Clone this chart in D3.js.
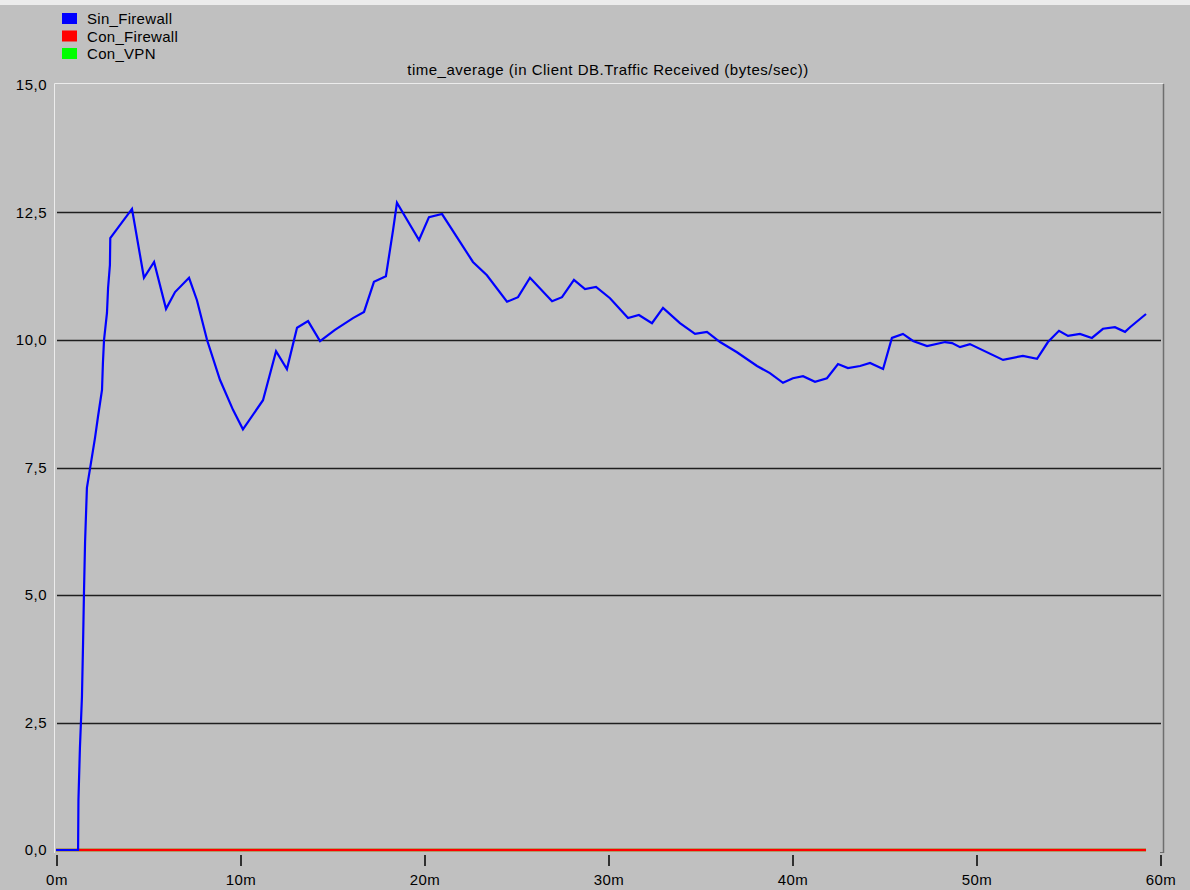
<!DOCTYPE html>
<html>
<head>
<meta charset="utf-8">
<script src="https://cdn.jsdelivr.net/npm/d3@7/dist/d3.min.js"></script>
<style>
  html, body { margin: 0; padding: 0; background: #c0c0c0; }
  svg { display: block; }
  text { font-family: "Liberation Sans", Arial, sans-serif; fill: #000; }
</style>
</head>
<body>
<svg id="chart" width="1190" height="890"></svg>
<script>
// Series names, in legend order
const seriesNames = ["Sin_Firewall", "Con_Firewall", "Con_VPN"];
const seriesColors = ["#0000ff", "#ff0000", "#00ff00"];

// Sin_Firewall: time (minutes) and time-averaged traffic received (bytes/sec)
const sinTimes = [0, 1.2, 1.22, 1.3, 1.41, 1.47, 1.52, 1.58, 1.68, 2.12, 2.28, 2.5, 2.55, 2.61, 2.77, 2.83, 2.93, 2.95,
  4.13, 4.78, 5.33, 5.98, 6.47, 7.23, 7.66, 8.21, 8.91, 9.62, 10.16, 11.25, 11.96, 12.55, 13.1, 13.7, 14.35,
  15.16, 16.14, 16.74, 17.28, 17.93, 18.32, 18.53, 19.73, 20.27, 20.98, 22.66, 23.42, 24.51, 25.11, 25.76,
  26.96, 27.5, 28.15, 28.75, 29.35, 30.11, 31.09, 31.68, 32.39, 32.99, 33.91, 34.73, 35.38, 36.09, 37.01,
  38.1, 38.8, 39.51, 40.05, 40.6, 41.25, 41.9, 42.5, 43.04, 43.7, 44.24, 44.95, 45.43, 46.03, 46.58, 47.34,
  48.32, 48.7, 49.13, 49.67, 51.47, 52.55, 53.32, 53.91, 54.51, 55.0, 55.65, 56.3, 56.9, 57.55, 58.1, 58.37, 59.24];
const sinValues = [0, 0, 0.98, 2.0, 3.0, 4.04, 5.04, 6.04, 7.1, 8.08, 8.49, 9.02, 9.55, 10.0, 10.53, 11.02, 11.47, 12.0,
  12.57, 11.22, 11.53, 10.61, 10.94, 11.22, 10.78, 10.0, 9.22, 8.63, 8.25, 8.82, 9.78, 9.43, 10.24, 10.37, 9.98,
  10.2, 10.43, 10.55, 11.14, 11.25, 12.16, 12.69, 11.96, 12.41, 12.47, 11.53, 11.27, 10.75, 10.84, 11.22,
  10.76, 10.84, 11.18, 11.0, 11.04, 10.82, 10.43, 10.49, 10.33, 10.63, 10.33, 10.12, 10.16, 9.96, 9.76,
  9.49, 9.35, 9.16, 9.25, 9.29, 9.18, 9.25, 9.53, 9.45, 9.49, 9.55, 9.43, 10.04, 10.12, 9.98, 9.88,
  9.96, 9.94, 9.86, 9.92, 9.61, 9.69, 9.63, 9.96, 10.18, 10.08, 10.12, 10.04, 10.22, 10.25, 10.16, 10.25, 10.51];

// Con_Firewall and Con_VPN stay at zero for the whole run
const conTimes = [0, 59.24];
const conFirewallValues = [0, 0];
const conVpnValues = [0, 0];

// Axis ticks
const xTicks = [0, 10, 20, 30, 40, 50, 60];
const xTickLabels = ["0m", "10m", "20m", "30m", "40m", "50m", "60m"];
const yTicks = [0, 2.5, 5, 7.5, 10, 12.5, 15];
const yTickLabels = ["0,0", "2,5", "5,0", "7,5", "10,0", "12,5", "15,0"];

const chartTitle = "time_average (in Client DB.Traffic Received (bytes/sec))";

const svg = d3.select("#chart");
const W = 1190, H = 890;
const plot = { left: 56, right: 1160, top: 85, bottom: 850 };

const x = d3.scaleLinear().domain([0, 60]).range([plot.left, plot.right]);
const y = d3.scaleLinear().domain([0, 15]).range([plot.bottom, plot.top]);

// Window background with a light strip along the top edge
svg.append("rect").attr("x", 0).attr("y", 0).attr("width", W).attr("height", H).attr("fill", "#c0c0c0");
svg.append("rect").attr("x", 0).attr("y", 0).attr("width", W).attr("height", 5).attr("fill", "#ececec");

// Legend
const legend = svg.append("g");
seriesNames.forEach((name, i) => {
  const cy = 19 + i * 17.5;
  legend.append("rect").attr("x", 62).attr("y", cy - 6).attr("width", 15).attr("height", 11)
    .attr("fill", seriesColors[i]);
  legend.append("text").attr("x", 87).attr("y", cy).attr("dy", "0.35em")
    .style("font-size", "15px").style("letter-spacing", "0.3px").text(name);
});

// Title
svg.append("text").attr("x", (plot.left + plot.right) / 2).attr("y", 75)
  .attr("text-anchor", "middle").style("font-size", "15px").style("letter-spacing", "0.5px")
  .text(chartTitle);

// Plot frame: light top/left edges, dark right edge
svg.append("line").attr("x1", 54.5).attr("x2", 1163).attr("y1", 83.5).attr("y2", 83.5)
  .attr("stroke", "#ececec").attr("stroke-width", 1);
svg.append("line").attr("x1", 54.5).attr("x2", 54.5).attr("y1", 83.5).attr("y2", 853)
  .attr("stroke", "#ececec").attr("stroke-width", 1);
svg.append("line").attr("x1", 1163.5).attr("x2", 1163.5).attr("y1", 84).attr("y2", 853)
  .attr("stroke", "#6e6e6e").attr("stroke-width", 1.5);
svg.append("line").attr("x1", 1160).attr("x2", 1163.5).attr("y1", 852.5).attr("y2", 852.5)
  .attr("stroke", "#6e6e6e").attr("stroke-width", 1);

// Horizontal gridlines (no line at the top value, which sits on the frame)
svg.append("g").selectAll("line").data(yTicks.filter(v => v > 0 && v < 15)).join("line")
  .attr("x1", plot.left + 1).attr("x2", plot.right + 1)
  .attr("y1", d => Math.round(y(d)) + 0.5).attr("y2", d => Math.round(y(d)) + 0.5)
  .attr("stroke", "#1e1e1e").attr("stroke-width", 1.3);

// Y-axis labels
svg.append("g").selectAll("text").data(yTicks).join("text")
  .attr("x", 47).attr("y", d => y(d)).attr("dy", "0.35em").attr("text-anchor", "end")
  .style("font-size", "15px").style("letter-spacing", "0.5px")
  .text((d, i) => yTickLabels[i]);

// X axis built from d3.axisBottom, restyled to short ticks below the plot
const xAxis = d3.axisBottom(x).tickValues(xTicks).tickSize(11).tickPadding(8)
  .tickFormat((d, i) => xTickLabels[i]);
const gx = svg.append("g").attr("transform", `translate(0.5,${plot.bottom + 5})`).call(xAxis);
gx.select(".domain").remove();
gx.selectAll(".tick line").attr("stroke", "#000").attr("stroke-width", 1.5);
gx.selectAll(".tick text").style("font-size", "15px").style("letter-spacing", "0.5px")
  .style("font-family", "'Liberation Sans', Arial, sans-serif").attr("fill", "#000");

// Series lines: zero-valued series underneath, Sin_Firewall on top
const line = d3.line().x(d => x(d[0])).y(d => y(d[1]));

const vpnData = conTimes.map((t, i) => [t, conVpnValues[i]]);
const conData = conTimes.map((t, i) => [t, conFirewallValues[i]]);
const sinData = sinTimes.map((t, i) => [t, sinValues[i]]);

svg.append("path").datum(vpnData).attr("d", line).attr("fill", "none")
  .attr("stroke", seriesColors[2]).attr("stroke-width", 2.5);
svg.append("path").datum(conData).attr("d", line).attr("fill", "none")
  .attr("stroke", seriesColors[1]).attr("stroke-width", 2.5);
svg.append("path").datum(sinData).attr("d", line).attr("fill", "none")
  .attr("stroke", seriesColors[0]).attr("stroke-width", 2.2).attr("stroke-linejoin", "miter");
</script>
</body>
</html>
